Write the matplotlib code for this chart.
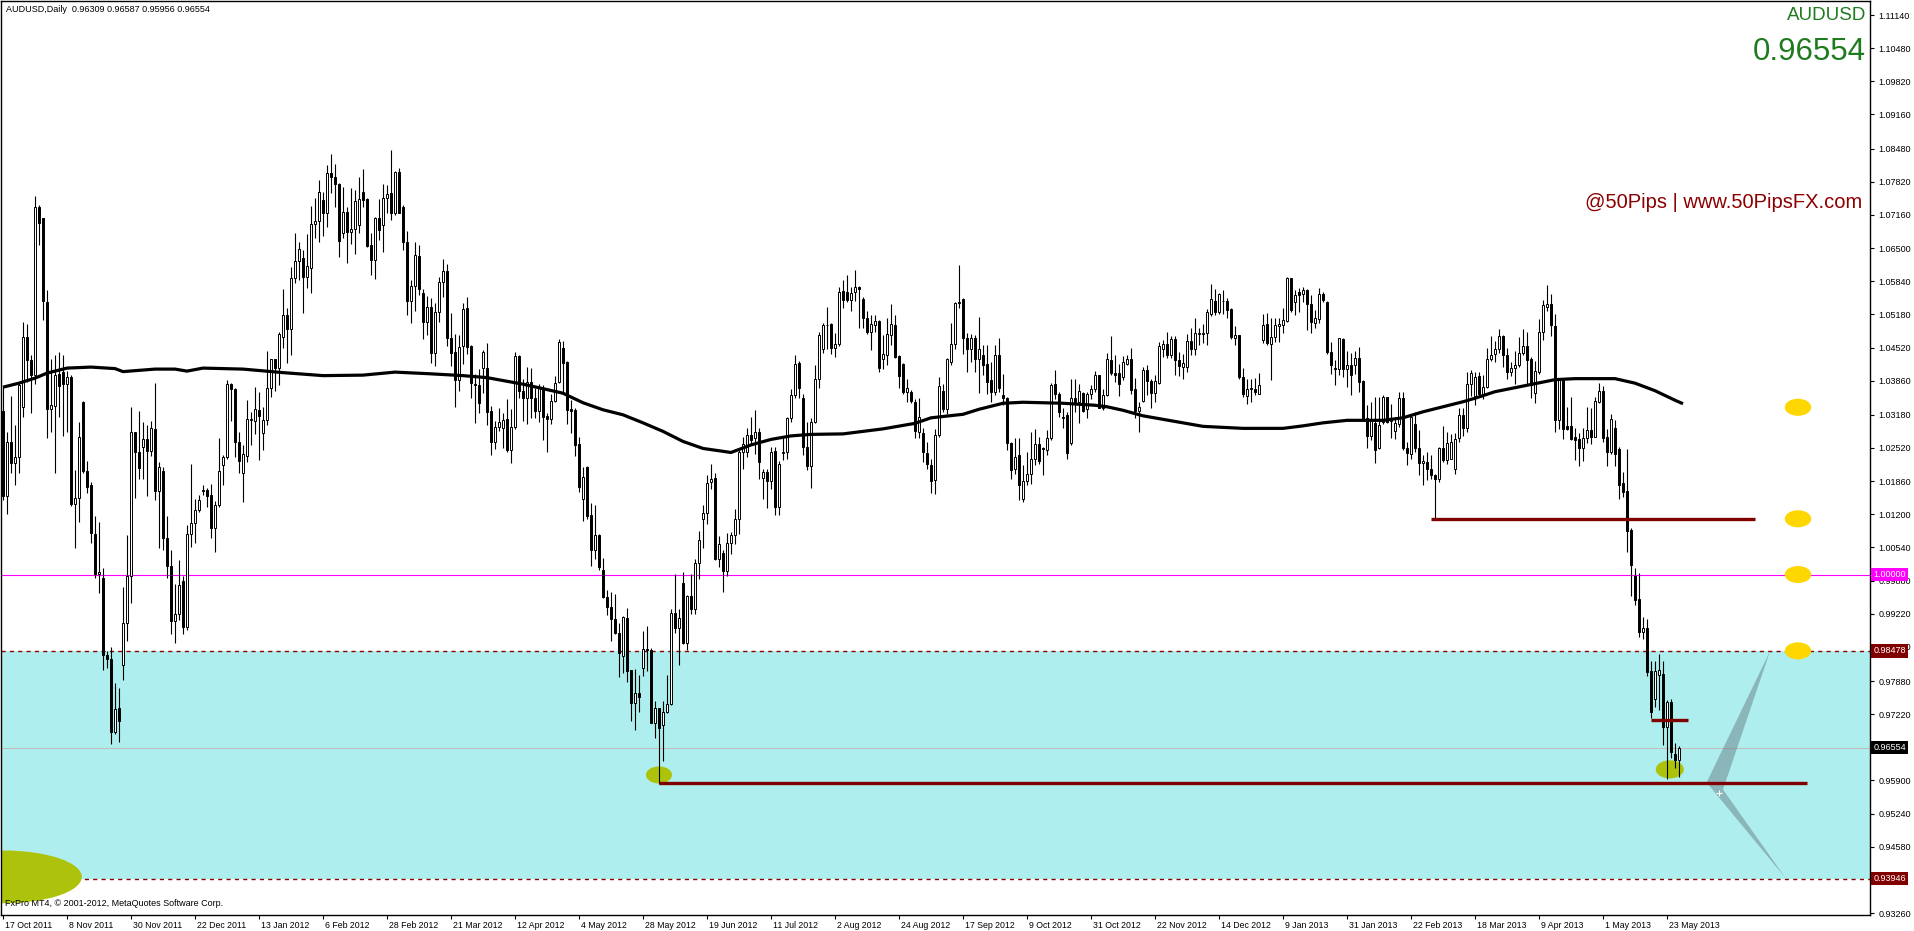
import numpy as np
import matplotlib
matplotlib.use("Agg")
import matplotlib.pyplot as plt
from matplotlib.patches import Ellipse, Polygon
import matplotlib.transforms as mtransforms

plt.rcParams['font.family'] = ['Liberation Sans', 'DejaVu Sans']

# daily AUDUSD candles, prices x 10000
opens = [
    10325, 10156, 10263, 10223, 10233, 10334, 10473, 10427, 10398, 10731,
    10709, 10543, 10329, 10336, 10400, 10404, 10379, 10393, 10140, 10153,
    10343, 10206, 10178, 10081, 10002, 9994, 9840, 9832, 9686, 9734,
    9819, 9903, 9998, 10283, 10244, 10254, 10270, 10246, 10289, 10167,
    10207, 10073, 10017, 9908, 9921, 9988, 9895, 10080, 10102, 10129,
    10166, 10169, 10158, 10092, 10138, 10219, 10233, 10379, 10370, 10263,
    10202, 10236, 10307, 10306, 10327, 10282, 10307, 10371, 10429, 10412,
    10472, 10517, 10488, 10590, 10624, 10631, 10592, 10611, 10698, 10704,
    10746, 10719, 10799, 10791, 10777, 10680, 10722, 10682, 10687, 10696,
    10762, 10747, 10656, 10626, 10709, 10696, 10749, 10759, 10720, 10801,
    10731, 10663, 10545, 10574, 10634, 10560, 10503, 10532, 10442, 10523,
    10583, 10605, 10470, 10444, 10388, 10455, 10530, 10455, 10380, 10377,
    10412, 10412, 10326, 10263, 10293, 10291, 10309, 10247, 10293, 10435,
    10366, 10351, 10384, 10351, 10326, 10371, 10316, 10309, 10346, 10384,
    10452, 10423, 10329, 10328, 10260, 10150, 10214, 10119, 10048, 10079,
    10010, 9956, 9935, 9911, 9884, 9838, 9913, 9809, 9745, 9764,
    9813, 9851, 9849, 9704, 9734, 9701, 9727, 9742, 9924, 9893,
    9983, 9863, 9957, 9931, 10022, 10110, 10122, 10185, 10192, 10030,
    10042, 10008, 10062, 10079, 10110, 10244, 10244, 10278, 10272, 10283,
    10193, 10205, 10186, 10246, 10135, 10241, 10243, 10312, 10357, 10422,
    10352, 10254, 10217, 10303, 10390, 10450, 10496, 10498, 10452, 10458,
    10564, 10562, 10546, 10563, 10573, 10548, 10511, 10482, 10497, 10505,
    10429, 10438, 10477, 10497, 10436, 10420, 10363, 10363, 10344, 10284,
    10281, 10241, 10219, 10188, 10278, 10365, 10329, 10424, 10458, 10540,
    10548, 10471, 10450, 10470, 10430, 10438, 10420, 10387, 10364, 10437,
    10358, 10352, 10261, 10210, 10238, 10151, 10186, 10201, 10230, 10259,
    10251, 10248, 10271, 10380, 10360, 10312, 10317, 10261, 10351, 10344,
    10362, 10329, 10360, 10369, 10397, 10332, 10358, 10427, 10402, 10402,
    10394, 10420, 10430, 10369, 10325, 10345, 10407, 10385, 10362, 10382,
    10450, 10458, 10438, 10469, 10427, 10414, 10414, 10465, 10449, 10479,
    10479, 10480, 10518, 10544, 10522, 10544, 10544, 10528, 10471, 10477,
    10394, 10356, 10372, 10369, 10360, 10467, 10498, 10458, 10473, 10495,
    10497, 10504, 10591, 10543, 10563, 10558, 10566, 10538, 10500, 10508,
    10558, 10542, 10443, 10412, 10410, 10469, 10409, 10418, 10418, 10431,
    10385, 10311, 10276, 10301, 10251, 10303, 10354, 10305, 10286, 10299,
    10351, 10251, 10239, 10299, 10252, 10223, 10224, 10210, 10198, 10190,
    10252, 10228, 10231, 10210, 10271, 10317, 10292, 10380, 10356, 10396,
    10360, 10374, 10430, 10440, 10449, 10475, 10437, 10404, 10411, 10417,
    10442, 10454, 10430, 10361, 10404, 10482, 10532, 10538, 10494, 10307,
    10387, 10296, 10295, 10273, 10269, 10252, 10271, 10287, 10273, 10344,
    10366, 10273, 10243, 10292, 10250, 10182, 10167, 10088, 9997, 9951,
    9885, 9894, 9807, 9752, 9800, 9802, 9697, 9747, 9642, 9631,
]
highs = [
    10375, 10283, 10356, 10298, 10381, 10502, 10498, 10437, 10754, 10735,
    10710, 10567, 10429, 10437, 10444, 10437, 10406, 10398, 10209, 10304,
    10346, 10227, 10184, 10116, 10105, 10013, 9848, 9855, 9784, 9774,
    9975, 10079, 10333, 10284, 10325, 10304, 10298, 10306, 10381, 10225,
    10215, 10117, 10048, 9982, 10028, 9998, 10098, 10221, 10150, 10159,
    10179, 10173, 10181, 10146, 10271, 10238, 10387, 10381, 10371, 10283,
    10257, 10347, 10324, 10374, 10364, 10334, 10446, 10430, 10429, 10482,
    10568, 10530, 10613, 10679, 10663, 10646, 10678, 10734, 10749, 10785,
    10762, 10815, 10837, 10817, 10780, 10771, 10731, 10769, 10765, 10791,
    10807, 10749, 10679, 10711, 10747, 10777, 10775, 10846, 10804, 10809,
    10736, 10683, 10586, 10663, 10656, 10568, 10554, 10550, 10540, 10593,
    10629, 10618, 10520, 10479, 10477, 10540, 10552, 10457, 10399, 10410,
    10447, 10460, 10336, 10306, 10331, 10322, 10349, 10330, 10444, 10437,
    10389, 10413, 10411, 10371, 10379, 10377, 10322, 10360, 10395, 10468,
    10464, 10426, 10348, 10331, 10273, 10215, 10216, 10142, 10139, 10081,
    10032, 9969, 9966, 9961, 9903, 9918, 9933, 9810, 9811, 9800,
    9888, 9898, 9853, 9749, 9734, 9749, 9800, 9931, 10001, 9931,
    10006, 9959, 10001, 10030, 10087, 10139, 10198, 10220, 10203, 10077,
    10049, 10082, 10085, 10130, 10252, 10274, 10292, 10314, 10327, 10291,
    10211, 10211, 10254, 10254, 10226, 10274, 10314, 10369, 10438, 10425,
    10359, 10304, 10311, 10417, 10482, 10500, 10533, 10500, 10480, 10573,
    10586, 10596, 10573, 10606, 10575, 10553, 10524, 10517, 10517, 10507,
    10477, 10511, 10538, 10517, 10438, 10422, 10390, 10367, 10349, 10351,
    10292, 10264, 10231, 10290, 10394, 10380, 10432, 10500, 10543, 10617,
    10551, 10480, 10478, 10477, 10513, 10457, 10457, 10424, 10457, 10470,
    10400, 10354, 10264, 10271, 10271, 10218, 10244, 10284, 10290, 10274,
    10254, 10287, 10382, 10407, 10364, 10331, 10324, 10390, 10390, 10380,
    10364, 10364, 10378, 10405, 10398, 10370, 10442, 10475, 10437, 10420,
    10435, 10438, 10451, 10392, 10344, 10414, 10418, 10390, 10397, 10463,
    10467, 10483, 10475, 10475, 10443, 10440, 10478, 10490, 10510, 10490,
    10498, 10528, 10578, 10568, 10560, 10566, 10550, 10530, 10495, 10477,
    10412, 10390, 10390, 10392, 10402, 10518, 10520, 10510, 10510, 10510,
    10530, 10593, 10591, 10566, 10570, 10573, 10568, 10556, 10526, 10570,
    10563, 10544, 10462, 10427, 10471, 10470, 10445, 10442, 10445, 10453,
    10387, 10337, 10344, 10354, 10354, 10357, 10354, 10339, 10314, 10364,
    10364, 10264, 10316, 10324, 10287, 10238, 10243, 10238, 10201, 10254,
    10296, 10284, 10279, 10281, 10332, 10332, 10404, 10408, 10403, 10403,
    10397, 10451, 10474, 10465, 10489, 10477, 10452, 10424, 10445, 10472,
    10489, 10482, 10433, 10425, 10509, 10546, 10577, 10558, 10518, 10392,
    10388, 10333, 10353, 10292, 10282, 10292, 10333, 10332, 10354, 10381,
    10376, 10289, 10319, 10307, 10253, 10205, 10250, 10093, 10013, 10003,
    9916, 9912, 9828, 9827, 9842, 9827, 9750, 9752, 9665, 9659,
]
lows = [
    10148, 10121, 10202, 10179, 10202, 10313, 10383, 10321, 10379, 10656,
    10506, 10271, 10283, 10202, 10313, 10275, 10283, 10136, 10052, 10105,
    10202, 10163, 10063, 9994, 9963, 9809, 9813, 9663, 9682, 9667,
    9790, 9867, 9944, 10152, 10190, 10190, 10156, 10236, 10148, 10052,
    10048, 9994, 9882, 9863, 9909, 9882, 9890, 10055, 10063, 10125,
    10159, 10135, 10073, 10045, 10135, 10179, 10231, 10306, 10233, 10202,
    10144, 10225, 10258, 10280, 10228, 10248, 10298, 10354, 10366, 10377,
    10452, 10422, 10437, 10581, 10586, 10520, 10570, 10561, 10671, 10663,
    10674, 10692, 10759, 10732, 10633, 10671, 10621, 10659, 10639, 10680,
    10732, 10653, 10596, 10588, 10667, 10643, 10719, 10706, 10716, 10719,
    10647, 10517, 10501, 10525, 10556, 10468, 10477, 10422, 10415, 10503,
    10552, 10454, 10415, 10333, 10366, 10419, 10440, 10351, 10301, 10322,
    10361, 10298, 10238, 10249, 10285, 10251, 10243, 10222, 10289, 10351,
    10306, 10300, 10311, 10311, 10304, 10267, 10243, 10300, 10344, 10382,
    10360, 10300, 10281, 10235, 10165, 10107, 10110, 10017, 10030, 10010,
    9953, 9920, 9868, 9882, 9795, 9803, 9787, 9709, 9691, 9727,
    9797, 9807, 9704, 9674, 9582, 9629, 9725, 9740, 9884, 9820,
    9862, 9849, 9922, 9922, 9991, 10052, 10101, 10170, 10029, 10014,
    9966, 9997, 10041, 10060, 10080, 10211, 10234, 10258, 10239, 10191,
    10151, 10132, 10171, 10118, 10118, 10228, 10230, 10304, 10352, 10352,
    10238, 10208, 10173, 10301, 10372, 10442, 10449, 10440, 10434, 10455,
    10531, 10543, 10524, 10544, 10491, 10490, 10478, 10447, 10482, 10404,
    10410, 10418, 10457, 10432, 10371, 10359, 10344, 10341, 10272, 10272,
    10225, 10211, 10163, 10161, 10274, 10324, 10319, 10417, 10450, 10530,
    10440, 10404, 10424, 10404, 10362, 10397, 10360, 10344, 10357, 10364,
    10337, 10248, 10191, 10201, 10148, 10145, 10178, 10181, 10218, 10221,
    10198, 10238, 10268, 10350, 10314, 10291, 10231, 10258, 10324, 10301,
    10324, 10311, 10350, 10364, 10331, 10327, 10356, 10398, 10384, 10356,
    10387, 10417, 10360, 10311, 10283, 10344, 10357, 10332, 10344, 10380,
    10433, 10431, 10431, 10397, 10396, 10390, 10404, 10437, 10437, 10457,
    10460, 10457, 10515, 10516, 10518, 10518, 10510, 10469, 10457, 10389,
    10354, 10339, 10344, 10357, 10360, 10460, 10457, 10387, 10463, 10463,
    10480, 10503, 10523, 10516, 10523, 10543, 10487, 10480, 10490, 10500,
    10543, 10440, 10400, 10378, 10397, 10394, 10374, 10357, 10400, 10364,
    10307, 10251, 10268, 10223, 10250, 10299, 10301, 10271, 10270, 10294,
    10248, 10218, 10231, 10244, 10198, 10179, 10188, 10191, 10112, 10185,
    10224, 10221, 10231, 10200, 10264, 10276, 10283, 10356, 10337, 10353,
    10349, 10371, 10425, 10424, 10442, 10413, 10390, 10396, 10380, 10413,
    10437, 10378, 10351, 10342, 10399, 10467, 10525, 10474, 10283, 10289,
    10269, 10287, 10268, 10228, 10216, 10226, 10262, 10259, 10273, 10342,
    10264, 10216, 10239, 10216, 10150, 10154, 10044, 9958, 9939, 9875,
    9871, 9797, 9714, 9736, 9731, 9660, 9593, 9635, 9615, 9596,
]
closes = [
    10156, 10263, 10223, 10234, 10377, 10473, 10427, 10398, 10731, 10700,
    10544, 10329, 10338, 10398, 10375, 10379, 10393, 10140, 10153, 10273,
    10206, 10175, 10082, 10002, 10005, 9840, 9832, 9686, 9732, 9709,
    9903, 9998, 10283, 10244, 10213, 10270, 10246, 10292, 10167, 10215,
    10073, 10017, 9908, 9921, 9980, 9895, 10080, 10102, 10129, 10148,
    10169, 10157, 10092, 10138, 10207, 10234, 10379, 10370, 10263, 10227,
    10239, 10309, 10309, 10329, 10315, 10307, 10371, 10429, 10412, 10479,
    10517, 10488, 10590, 10624, 10649, 10592, 10614, 10698, 10704, 10761,
    10719, 10799, 10791, 10777, 10665, 10722, 10682, 10687, 10744, 10747,
    10746, 10654, 10626, 10709, 10686, 10749, 10757, 10720, 10802, 10720,
    10663, 10545, 10574, 10636, 10568, 10503, 10532, 10442, 10523, 10583,
    10605, 10470, 10442, 10388, 10453, 10528, 10453, 10382, 10377, 10341,
    10444, 10324, 10263, 10293, 10304, 10308, 10247, 10293, 10435, 10366,
    10351, 10384, 10351, 10326, 10374, 10314, 10309, 10346, 10382, 10462,
    10422, 10328, 10326, 10258, 10175, 10194, 10117, 10048, 10079, 10014,
    9956, 9935, 9911, 9884, 9843, 9916, 9807, 9745, 9764, 9756,
    9851, 9849, 9704, 9734, 9694, 9727, 9742, 9924, 9893, 9913,
    9863, 9957, 9931, 10022, 10068, 10122, 10183, 10190, 10030, 10061,
    10008, 10062, 10079, 10110, 10244, 10259, 10278, 10268, 10283, 10225,
    10205, 10186, 10244, 10135, 10221, 10243, 10312, 10357, 10420, 10372,
    10254, 10217, 10303, 10390, 10477, 10497, 10497, 10452, 10458, 10563,
    10546, 10546, 10560, 10573, 10568, 10511, 10482, 10498, 10505, 10412,
    10440, 10478, 10498, 10434, 10396, 10363, 10372, 10345, 10286, 10314,
    10244, 10221, 10186, 10278, 10376, 10329, 10429, 10458, 10540, 10543,
    10470, 10450, 10471, 10430, 10450, 10417, 10384, 10364, 10437, 10372,
    10352, 10261, 10208, 10234, 10179, 10186, 10201, 10230, 10259, 10226,
    10249, 10271, 10377, 10360, 10324, 10314, 10241, 10351, 10344, 10365,
    10325, 10360, 10369, 10397, 10332, 10358, 10429, 10402, 10398, 10380,
    10424, 10429, 10367, 10325, 10334, 10407, 10385, 10362, 10385, 10455,
    10458, 10437, 10469, 10427, 10416, 10422, 10465, 10449, 10480, 10480,
    10480, 10523, 10548, 10522, 10558, 10545, 10526, 10473, 10477, 10394,
    10360, 10369, 10369, 10364, 10377, 10497, 10460, 10473, 10497, 10498,
    10506, 10591, 10526, 10556, 10556, 10566, 10538, 10503, 10511, 10558,
    10546, 10443, 10417, 10409, 10470, 10410, 10418, 10398, 10431, 10384,
    10311, 10276, 10309, 10248, 10297, 10354, 10304, 10312, 10301, 10351,
    10251, 10241, 10314, 10251, 10223, 10226, 10210, 10198, 10190, 10252,
    10228, 10261, 10263, 10270, 10317, 10292, 10380, 10401, 10394, 10359,
    10374, 10430, 10437, 10449, 10474, 10437, 10403, 10411, 10417, 10442,
    10454, 10428, 10378, 10406, 10482, 10536, 10538, 10497, 10307, 10387,
    10290, 10290, 10269, 10268, 10252, 10271, 10287, 10273, 10346, 10366,
    10271, 10243, 10310, 10239, 10179, 10164, 10086, 10019, 9949, 9885,
    9894, 9805, 9727, 9807, 9809, 9697, 9747, 9647, 9631, 9655,
]

# moving average read at some bars
ma_bars = [0, 4, 8, 11, 16, 22, 28, 30, 38, 43, 46, 50, 60, 70, 80, 90, 98, 106, 115, 121,
           130, 140, 145, 150, 155, 160, 165, 170, 175, 182, 187, 192, 197, 202, 210, 220, 228, 232, 240, 244,
           250, 255, 260, 265, 273, 276, 280, 285, 290, 295, 300, 305, 310, 320, 325, 330, 336, 345, 350, 355,
           360, 365, 368, 373, 378, 383, 388, 393, 398, 403, 408, 413, 418, 420]
ma_vals = [10373, 10381, 10391, 10401, 10411, 10413, 10410, 10404, 10409, 10409, 10405, 10411, 10409, 10402, 10396, 10397, 10403, 10400, 10396, 10392,
           10379, 10361, 10342, 10328, 10318, 10302, 10285, 10265, 10251, 10243, 10258, 10269, 10276, 10279, 10280, 10290, 10301, 10312, 10319, 10329,
           10341, 10343, 10342, 10341, 10337, 10334, 10327, 10316, 10309, 10302, 10295, 10293, 10291, 10291, 10296, 10302, 10307, 10307, 10312, 10324,
           10334, 10344, 10351, 10364, 10372, 10380, 10388, 10390, 10390, 10390, 10381, 10366, 10347, 10340]

date_labels = ["17 Oct 2011", "8 Nov 2011", "30 Nov 2011", "22 Dec 2011", "13 Jan 2012", "6 Feb 2012",
               "28 Feb 2012", "21 Mar 2012", "12 Apr 2012", "4 May 2012", "28 May 2012", "19 Jun 2012",
               "11 Jul 2012", "2 Aug 2012", "24 Aug 2012", "17 Sep 2012", "9 Oct 2012", "31 Oct 2012",
               "22 Nov 2012", "14 Dec 2012", "9 Jan 2013", "31 Jan 2013", "22 Feb 2013", "18 Mar 2013",
               "9 Apr 2013", "1 May 2013", "23 May 2013"]
price_ticks = [1.11140, 1.10480, 1.09820, 1.09160, 1.08480, 1.07820, 1.07160, 1.06500, 1.05840,
               1.05180, 1.04520, 1.03860, 1.03180, 1.02520, 1.01860, 1.01200, 1.00540, 0.99880,
               0.99220, 0.98560, 0.97880, 0.97220, 0.95900, 0.95240, 0.94580, 0.93260]

zone_top, zone_bottom = 0.98478, 0.93946
parity = 1.00000
last_price = 0.96554
support_low = 0.9584
support_feb = 1.0111
small_level = 0.9711
target_levels = [1.0333, 1.0111, 1.0000, 0.9848]

o = np.array(opens) / 1e4
h = np.array(highs) / 1e4
l = np.array(lows) / 1e4
c = np.array(closes) / 1e4
x = np.arange(len(o))

W, H = 1914, 931
fig = plt.figure(figsize=(W / 100, H / 100), dpi=100)
fig.patch.set_facecolor('white')
ax = fig.add_axes([1 / W, 16 / H, 1869 / W, 914 / H])
ax.set_xlim(-0.5, 466.75)
ax.set_ylim(0.93221, 1.11419)

# zones and levels
ax.axhspan(zone_bottom, zone_top, color='#AFEEEE', zorder=0, lw=0)
for lv in (zone_top, zone_bottom):
    ax.axhline(lv, color='#8B0000', lw=1.0, ls=(0, (3, 3)), zorder=1)
ax.axhline(parity, color='#FF00FF', lw=0.8, zorder=1)
ax.axhline(last_price, color='#C0C0C0', lw=0.8, zorder=1)

# ellipses
ell_kw = dict(zorder=2, lw=0)
ax.add_patch(Ellipse((0.2, 0.9398), 39, 0.0105, color='#ADC30B', **ell_kw))
ax.add_patch(Ellipse((164, 0.9601), 6.5, 0.0034, color='#ADC30B', **ell_kw))
ax.add_patch(Ellipse((416.7, 0.9612), 7, 0.0036, color='#ADC30B', **ell_kw))
for lv in target_levels:
    ax.add_patch(Ellipse((448.75, lv), 6.6, 0.0034, color='#FFD700', **ell_kw))

# grey wedge arrows
wedge = dict(closed=True, fc=(0.38, 0.45, 0.48), alpha=0.45, lw=0, zorder=2)
ax.add_patch(Polygon([(441.8, 0.9848), (425.9, 0.9586), (430.0, 0.9572)], **wedge))
ax.add_patch(Polygon([(425.9, 0.9586), (430.0, 0.9572), (445.7, 0.9395)], **wedge))
ax.plot([429], [0.9566], marker='+', color='white', ms=5, mew=0.8, zorder=6)

# candles
up = c >= o
ax.vlines(x, l, h, color='black', lw=0.8, zorder=3)
body_lo = np.minimum(o, c)
body_h = np.maximum(np.abs(c - o), 0.00004)
ax.bar(x[up], body_h[up], bottom=body_lo[up], width=0.72, facecolor='white',
       edgecolor='black', linewidth=0.7, zorder=4)
ax.bar(x[~up], body_h[~up], bottom=body_lo[~up], width=0.72, facecolor='black',
       edgecolor='black', linewidth=0.7, zorder=4)

# moving average
ax.plot(ma_bars, np.array(ma_vals) / 1e4, color='black', lw=2.3, zorder=5,
        solid_capstyle='butt')

# drawn support lines
ax.hlines(support_low, 164, 451, color='#800000', lw=2.4, zorder=5)
ax.hlines(support_feb, 357, 438, color='#800000', lw=2.4, zorder=5)
ax.hlines(small_level, 412, 421.3, color='#800000', lw=2.4, zorder=5)

# axes styling
for s in ax.spines.values():
    s.set_color('black')
    s.set_linewidth(1.0)
ax.yaxis.tick_right()
ax.set_yticks(price_ticks)
ax.set_yticklabels([f"{p:.5f}" for p in price_ticks])
ax.tick_params(axis='y', which='both', direction='out', length=3, width=0.8,
               pad=3, labelsize=6.5, colors='black')
ax.set_xticks(np.arange(0, 16 * len(date_labels), 16))
ax.set_xticklabels(date_labels)
ax.tick_params(axis='x', direction='out', length=3, width=0.8, pad=1.5, labelsize=6.3)
offset = mtransforms.ScaledTranslation(2 / 100, 0, fig.dpi_scale_trans)
for lbl in ax.get_xticklabels():
    lbl.set_horizontalalignment('left')
    lbl.set_transform(lbl.get_transform() + offset)

# price boxes on the right axis
def price_box(val, fc):
    ax.annotate(f"{val:.5f}", xy=(1, val), xycoords=('axes fraction', 'data'),
                xytext=(2.5, 0), textcoords='offset points', ha='left', va='center',
                fontsize=6.5, color='white', zorder=10, annotation_clip=False,
                bbox=dict(boxstyle='square,pad=0.25', fc=fc, ec='none'))

price_box(parity, '#FF00FF')
price_box(zone_top, '#800000')
price_box(last_price, 'black')
price_box(zone_bottom, '#800000')

# texts
fig.text(6 / W, 1 - 9 / H, "AUDUSD,Daily  0.96309 0.96587 0.95956 0.96554",
         fontsize=6.5, va='center', ha='left', color='black')
fig.text(5 / W, 1 - 904 / H, "FxPro MT4, \u00a9 2001-2012, MetaQuotes Software Corp.",
         fontsize=6.5, va='center', ha='left', color='black', zorder=10)
fig.text(1866 / W, 1 - 15 / H, "AUDUSD", fontsize=13.5, color='#1E7B1E',
         ha='right', va='center')
fig.text(1866 / W, 1 - 52 / H, "0.96554", fontsize=22.5, color='#1E7B1E',
         ha='right', va='center')
fig.text(1862 / W, 1 - 203 / H, "@50Pips | www.50PipsFX.com", fontsize=14.5,
         color='#8B0000', ha='right', va='center')

fig.savefig('out.png', dpi=100)
